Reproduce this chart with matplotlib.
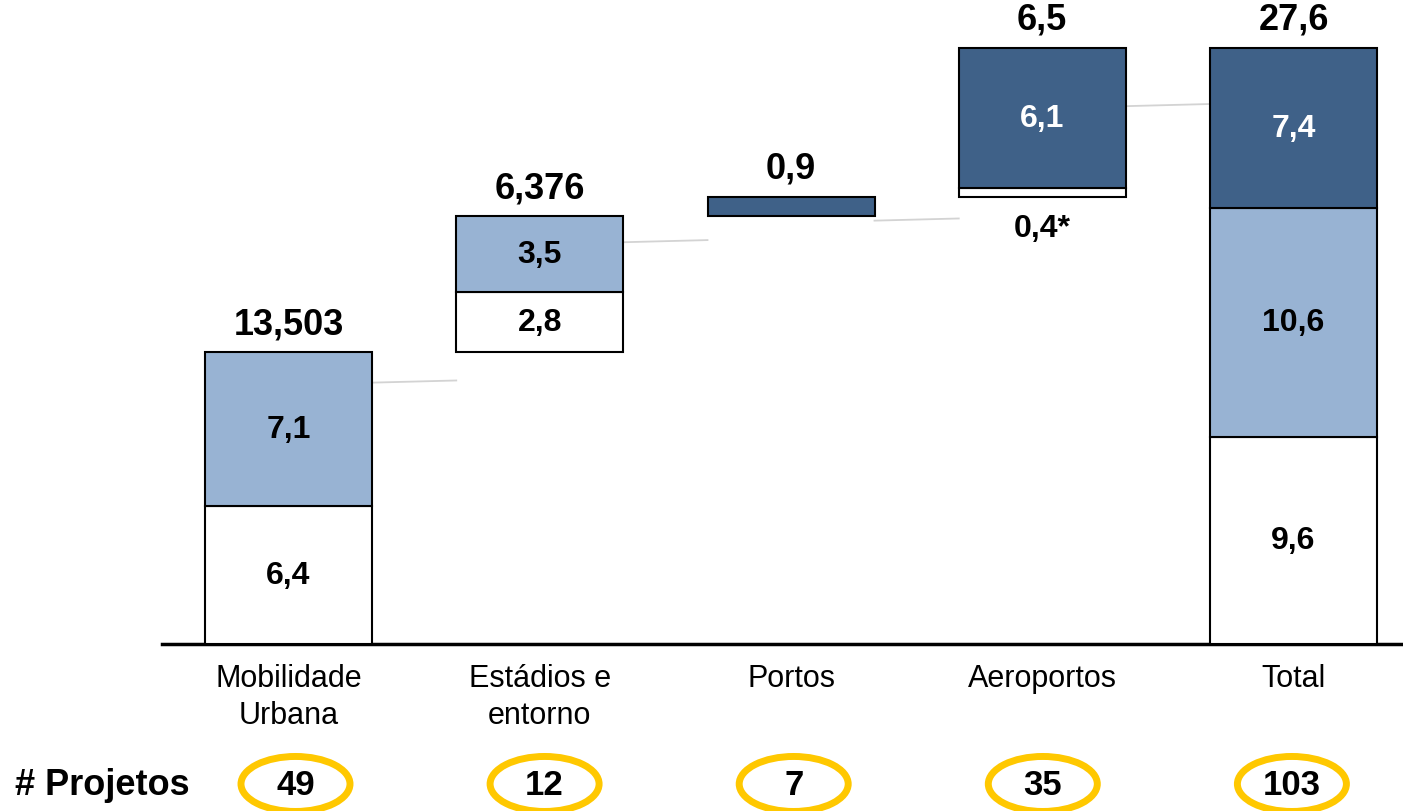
import matplotlib
matplotlib.use("Agg")
import matplotlib.pyplot as plt
from matplotlib.patches import Ellipse

plt.rcParams['font.family'] = ['Liberation Sans', 'DejaVu Sans']

# data
categories = ["Mobilidade\nUrbana", "Estádios e\nentorno", "Portos", "Aeroportos", "Total"]
white_vals = [6.4, 2.8, 0.0, 0.4, 9.6]
light_vals = [7.1, 3.5, 0.0, 0.0, 10.6]
dark_vals = [0.0, 0.0, 0.9, 6.5, 7.4]
white_labels = ["6,4", "2,8", "", "0,4*", "9,6"]
light_labels = ["7,1", "3,5", "", "", "10,6"]
dark_labels = ["", "", "", "6,1", "7,4"]
top_labels = ["13,503", "6,376", "0,9", "6,5", "27,6"]
projetos = [49, 12, 7, 35, 103]
# gray connector lines (start level, end level)
connectors = [(12.1, 12.2), (18.6, 18.7), (19.6, 19.7), (24.9, 25.0)]

LIGHT = "#98B3D3"
DARK = "#3F6188"
YELLOW = "#FFC800"

W, H = 1403, 812
fig = plt.figure(figsize=(W / 100, H / 100), dpi=100)
px = 251.25   # pixels per category
py = 21.6     # pixels per unit
x0 = 288.5    # pixel of first bar center
base_px = 645
ax = fig.add_axes([162 / W, (H - base_px) / H, (W - 162) / W, base_px / H])
ax.set_xlim((162 - x0) / px, (W - x0) / px)
ax.set_ylim(0, base_px / py)
ax.axis("off")
ax.axhline(0, color="black", lw=2.5, clip_on=False)

bw = 167 / px
bottoms = []
run = 0.0
for i in range(len(categories)):
    b = 0.0 if categories[i] == "Total" else run
    bottoms.append(b)
    run = b + white_vals[i] + light_vals[i] + dark_vals[i]

for i in range(len(categories)):
    b = bottoms[i]
    segs = [(white_vals[i], "white", white_labels[i], "black"),
            (light_vals[i], LIGHT, light_labels[i], "black"),
            (dark_vals[i], DARK, dark_labels[i], "white")]
    for val, col, lab, tcol in segs:
        if val <= 0:
            continue
        ax.bar(i, val, bottom=b, width=bw, color=col, edgecolor="black", lw=1.5, zorder=2)
        if lab:
            if val < 1:
                ax.text(i, b - 0.75, lab, ha="center", va="top", fontsize=23,
                        fontweight="bold", color=tcol)
            else:
                ax.text(i, b + val / 2, lab, ha="center", va="center", fontsize=23,
                        fontweight="bold", color=tcol)
        b += val
    ax.annotate(top_labels[i], (i, b), xytext=(0, 8), textcoords="offset points",
                ha="center", va="bottom", fontsize=26, fontweight="bold")
    ax.text(i, -0.9, categories[i], ha="center", va="top", fontsize=22,
            linespacing=1.27, clip_on=False)

    # the "# Projetos" row is spaced a bit tighter than the bars
    ex = i * 249.1 / px + 7 / px
    ax.add_patch(Ellipse((ex, -6.48), 109 / px, 55 / py, fill=False,
                         edgecolor=YELLOW, lw=5, clip_on=False))
    ax.text(ex, -6.5, str(projetos[i]), ha="center", va="center", fontsize=25,
            fontweight="bold", clip_on=False)

for i, (y1, y2) in enumerate(connectors):
    ax.plot([i + bw / 2, i + 1 - bw / 2], [y1, y2], color="#D3D3D3", lw=1.3, zorder=1)

ax.text((15 - x0) / px, -6.5, "# Projetos", ha="left", va="center", fontsize=26,
        fontweight="bold", clip_on=False)

fig.savefig("out.png", dpi=100)
